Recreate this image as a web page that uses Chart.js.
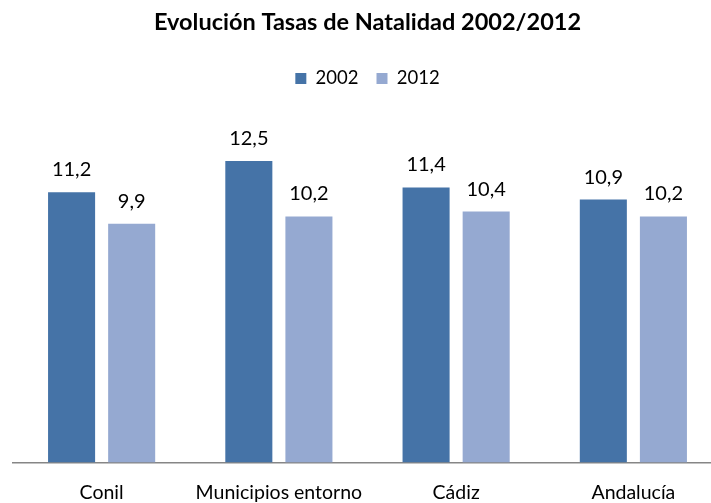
<!DOCTYPE html>
<html>
<head>
<meta charset="utf-8">
<script src="https://cdn.jsdelivr.net/npm/chart.js@4/dist/chart.umd.min.js"></script>
<style>
  html, body { margin: 0; padding: 0; background: #fff; overflow: hidden; }
  #wrap { width: 722px; height: 503px; }
</style>
</head>
<body>
<div id="wrap"><canvas id="natalidadChart"></canvas></div>
<script>
const categories = ['Conil', 'Municipios entorno', 'Cádiz', 'Andalucía'];
const values2002 = [11.2, 12.5, 11.4, 10.9];
const values2012 = [9.9, 10.2, 10.4, 10.2];
const seriesLabels = ['2002', '2012'];

const fontFamily = "Lato, 'Open Sans', sans-serif";

// draws value above each bar, decimal comma
const valueLabels = {
  id: 'valueLabels',
  afterDatasetsDraw(chart) {
    const ctx = chart.ctx;
    ctx.save();
    ctx.font = '20px ' + fontFamily;
    ctx.fillStyle = '#000';
    ctx.textAlign = 'center';
    ctx.textBaseline = 'alphabetic';
    chart.data.datasets.forEach((ds, i) => {
      chart.getDatasetMeta(i).data.forEach((bar, j) => {
        const txt = ds.data[j].toFixed(1).replace('.', ',');
        ctx.fillText(txt, bar.x, bar.y - 16);
      });
    });
    ctx.restore();
  }
};

// extra room between legend and bars
const legendSpacing = {
  id: 'legendSpacing',
  beforeInit(chart) {
    const fit = chart.legend.fit;
    chart.legend.fit = function () {
      fit.bind(chart.legend)();
      this.height += 27;
    };
  }
};

const ctx = document.getElementById('natalidadChart').getContext('2d');

new Chart(ctx, {
  type: 'bar',
  data: {
    labels: categories,
    datasets: [
      {
        label: seriesLabels[0],
        data: values2002,
        backgroundColor: '#4573a7',
        categoryPercentage: 0.678,
        barPercentage: 0.783
      },
      {
        label: seriesLabels[1],
        data: values2012,
        backgroundColor: '#95a9d1',
        categoryPercentage: 0.678,
        barPercentage: 0.783
      }
    ]
  },
  options: {
    responsive: true,
    maintainAspectRatio: false,
    animation: false,
    layout: {
      padding: { left: 13, right: 0, top: 8, bottom: -19 }
    },
    plugins: {
      title: {
        display: true,
        text: 'Evolución Tasas de Natalidad 2002/2012',
        color: '#000',
        font: { family: fontFamily, size: 23.5, weight: 'bold' },
        padding: { top: 0, bottom: 15 }
      },
      legend: {
        position: 'top',
        labels: {
          color: '#000',
          font: { family: fontFamily, size: 18.5 },
          boxWidth: 11,
          boxHeight: 11,
          padding: 18
        }
      },
      tooltip: { enabled: false }
    },
    scales: {
      x: {
        grid: { display: false, drawTicks: false },
        border: { display: true, color: '#868686', width: 1.5 },
        ticks: {
          color: '#000',
          font: { family: fontFamily, size: 19.5 },
          padding: 18
        }
      },
      y: {
        display: false,
        min: 0,
        max: 14
      }
    }
  },
  plugins: [valueLabels, legendSpacing]
});
</script>
</body>
</html>
